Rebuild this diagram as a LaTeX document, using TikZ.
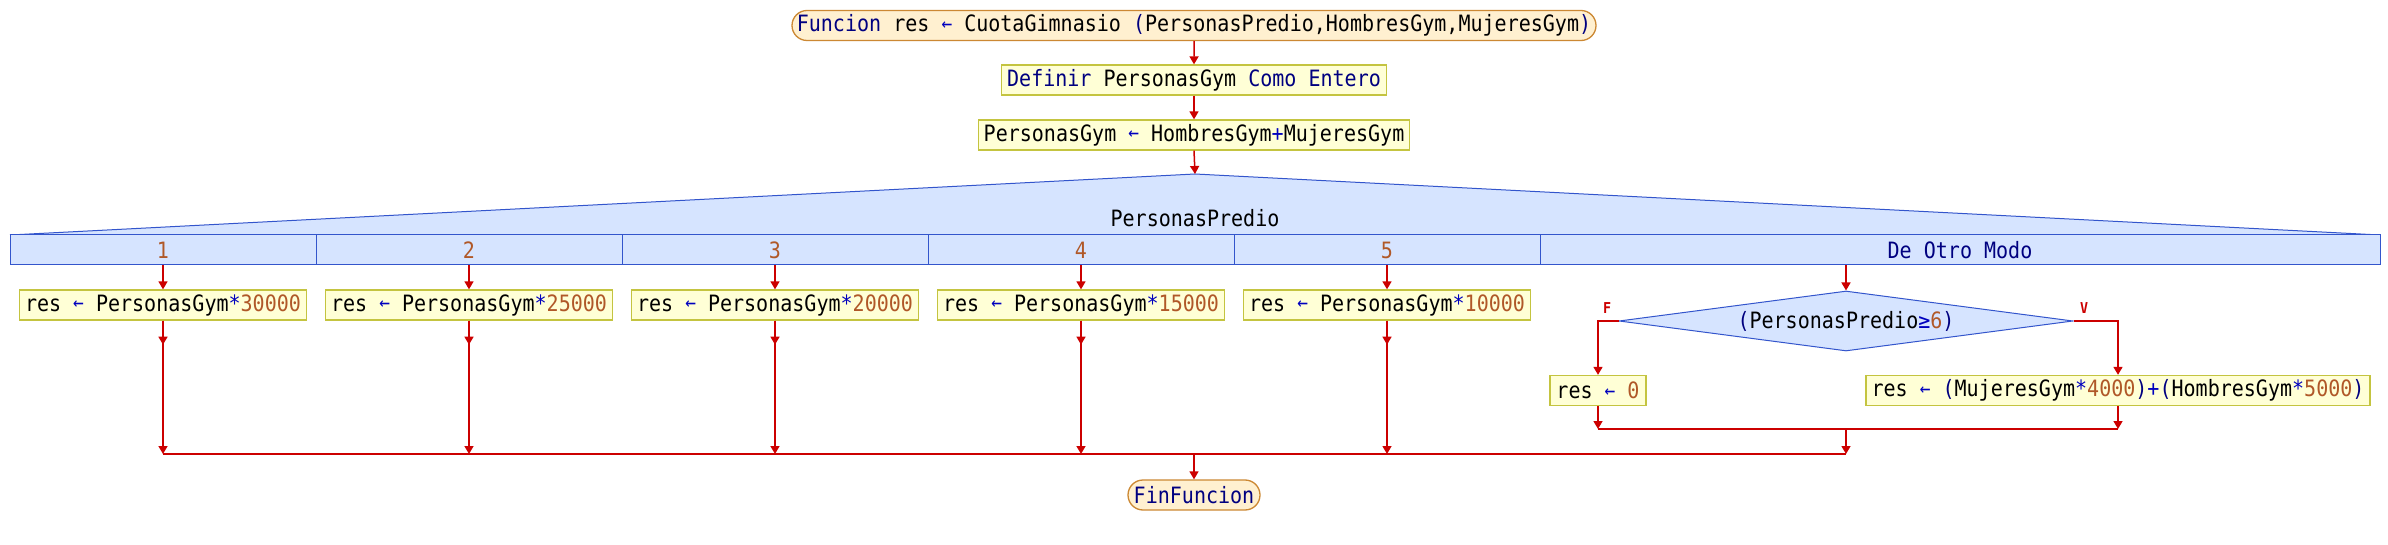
\documentclass[tikz,border=0pt]{standalone}
\usepackage{fontspec}
\newfontfamily\psefont[FakeStretch=0.89]{DejaVu Sans Mono}
\usetikzlibrary{arrows.meta,shapes.geometric,shapes.misc,calc}
\definecolor{kwc}{RGB}{0,0,128}
\definecolor{opc}{RGB}{0,0,190}
\definecolor{numc}{RGB}{176,88,40}
\definecolor{flowc}{RGB}{204,0,0}
\definecolor{procfill}{RGB}{255,255,214}
\definecolor{procline}{RGB}{196,196,64}
\definecolor{termfill}{RGB}{255,240,208}
\definecolor{termline}{RGB}{204,136,51}
\definecolor{casefill}{RGB}{214,228,255}
\definecolor{caseline}{RGB}{51,85,204}
\newcommand{\pK}[1]{\textcolor{kwc}{#1}}
\newcommand{\pO}[1]{\textcolor{opc}{#1}}
\newcommand{\pN}[1]{\textcolor{numc}{#1}}
\newcommand{\pA}{\textcolor{opc}{\raisebox{1.5pt}{\fontsize{20}{22}\selectfont ←}}}
\tikzset{
  proc/.style={draw=procline, fill=procfill, line width=1.3pt, minimum height=30pt, inner xsep=2pt, inner ysep=0pt},
  term/.style={rounded rectangle, draw=termline, fill=termfill, line width=1.3pt, minimum height=30pt, inner xsep=2pt, inner ysep=0pt},
  cell/.style={draw=caseline, fill=casefill, line width=1pt, minimum height=30pt, minimum width=306pt, inner sep=0pt},
  cond/.style={diamond, draw=caseline, fill=casefill, line width=1pt, minimum width=454pt, minimum height=60pt, aspect=7.57, inner sep=0pt},
  flow/.style={draw=flowc, line width=1.5pt, -{Triangle[width=9pt,length=8pt]}},
  joinline/.style={draw=flowc, line width=2.6pt},
  lbl/.style={text=flowc, font=\psefont\bfseries\fontsize{15}{17}\selectfont}
}
\begin{document}
\begin{tikzpicture}[x=1pt, y=-1pt, font=\psefont\fontsize{22.5}{26}\selectfont]
\useasboundingbox[fill=white] (0,0) rectangle (2388,545);
% top
\node[term, minimum width=808pt] (start) at (1194,25.5) {\pK{Funcion} res \pA{} CuotaGimnasio \pK{(}PersonasPredio,HombresGym,MujeresGym\pK{)}};
\node[proc, minimum width=385pt] (def) at (1194,80) {\pK{Definir} PersonasGym \pK{Como Entero}};
\node[proc, minimum width=431pt] (asg) at (1194,135) {PersonasGym \pA{} HombresGym\pO{+}MujeresGym};
% case header
\coordinate (peak) at (1195,174);
\path[fill=casefill] (10,235) -- (peak) -- (2380,235) -- cycle;
\draw[caseline, line width=1pt] (10,235) -- (peak) -- (2380,235);
\node (sel) at (1195,218) {PersonasPredio};
\node[cell] (c1) at (163,250) {\pN{1}};
\node[cell] (c2) at (469,250) {\pN{2}};
\node[cell] (c3) at (775,250) {\pN{3}};
\node[cell] (c4) at (1081,250) {\pN{4}};
\node[cell] (c5) at (1387,250) {\pN{5}};
\node[cell, minimum width=840pt] (c6) at (1960,250) {\pK{De Otro Modo}};
% case bodies
\node[proc, minimum width=287pt] (b1) at (163,305) {res \pA{} PersonasGym\pO{*}\pN{30000}};
\node[proc, minimum width=287pt] (b2) at (469,305) {res \pA{} PersonasGym\pO{*}\pN{25000}};
\node[proc, minimum width=287pt] (b3) at (775,305) {res \pA{} PersonasGym\pO{*}\pN{20000}};
\node[proc, minimum width=287pt] (b4) at (1081,305) {res \pA{} PersonasGym\pO{*}\pN{15000}};
\node[proc, minimum width=287pt] (b5) at (1387,305) {res \pA{} PersonasGym\pO{*}\pN{10000}};
\node[cond] (dia) at (1846,321) {\pK{(}PersonasPredio\pO{≥}\pN{6}\pK{)}};
\node[proc, minimum width=96pt] (bF) at (1598,390.5) {res \pA{} \pN{0}};
\node[proc, minimum width=504pt] (bV) at (2118,390.5) {res \pA{} \pK{(}MujeresGym\pO{*}\pN{4000}\pK{)}\pO{+}\pK{(}HombresGym\pO{*}\pN{5000}\pK{)}};
\node[lbl] (lF) at (1607,308) {F};
\node[lbl] (lV) at (2084,308) {V};
\node[term, minimum width=136pt] (fin) at (1194,495) {\pK{FinFuncion}};
\coordinate (ij) at (1846,429);
\coordinate (mj) at (1194,454);
% connectors
\draw[flow] (start) -- (def);
\draw[flow] (def) -- (asg);
\draw[flow] (asg.south) -- (peak);
\foreach \i in {1,...,5} {
  \draw[flow] (c\i.south) -- (b\i.north);
  \draw[flow] (b\i.south) -- ++(0,24);
  \draw[flow] (b\i.south) -- (b\i.south |- mj);
}
\draw[flow] (c6.south -| dia.north) -- (dia.north);
\draw[flow] (dia.west) -| (bF.north);
\draw[flow] (dia.east) -| (bV.north);
\draw[flow] (bF.south) -- (bF.south |- ij);
\draw[flow] (bV.south) -- (bV.south |- ij);
\draw[joinline] (bF.south |- ij) -- (bV.south |- ij);
\draw[flow] (ij) -- (ij |- mj);
\draw[joinline] (b1.south |- mj) -- (ij |- mj);
\draw[flow] (mj) -- (fin.north);
\end{tikzpicture}
\end{document}
